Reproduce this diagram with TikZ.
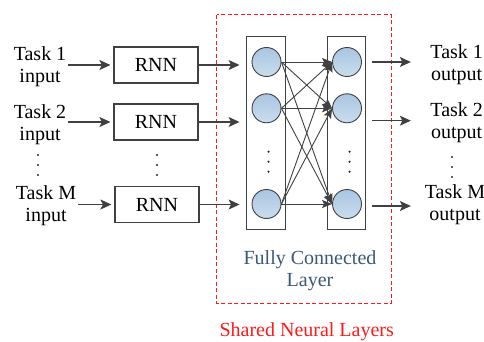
\documentclass[tikz,border=0pt]{standalone}
\usepackage{fontspec}
\setmainfont{Liberation Serif}
\usetikzlibrary{arrows.meta,calc}
\definecolor{linegray}{HTML}{404040}
\definecolor{neurontop}{HTML}{A9C5E1}
\definecolor{neuronbot}{HTML}{CADDEE}
\definecolor{fclabel}{HTML}{3A5878}
\definecolor{sharedred}{HTML}{FF1A1A}

\begin{document}
\begin{tikzpicture}[x=1pt,y=-1pt,
  font=\fontsize{20}{21.5}\selectfont,
  lbl/.style={align=center, inner sep=0pt},
  rnnbox/.style={draw=linegray, line width=1.2pt, minimum width=84pt,
                 minimum height=36pt, inner sep=0pt},
  column/.style={draw=linegray, line width=1.2pt, minimum width=38.5pt,
                 minimum height=192.5pt, inner sep=0pt},
  neuron/.style={circle, draw=linegray, line width=0.9pt,
                 top color=neurontop, bottom color=neuronbot,
                 minimum size=29pt, inner sep=0pt},
  arr/.style={draw=linegray, line width=1.2pt,
              -{Stealth[length=11pt,width=10pt,inset=2.5pt]}},
  link/.style={draw=linegray, line width=0.9pt,
               -{Stealth[length=10pt,width=8pt,inset=2pt]}},
  vdot/.style={fill=black!85},
]
\useasboundingbox (0,0) rectangle (484,342);

% shared part: dashed frame and captions
\draw[sharedred, line width=1pt, dash pattern=on 4pt off 2.5pt]
  (216.5,15) rectangle (391,303);
\node[lbl, text=fclabel] (fc) at (310,270.8) {Fully Connected\\Layer};
\node[lbl, text=sharedred] (shared) at (306.7,331.7) {Shared Neural Layers};

% task inputs
\node[lbl] (t1) at (40,66.9)  {Task 1\\input};
\node[lbl] (t2) at (40,124.9) {Task 2\\input};
\node[lbl] (tm) at (46,205.9) {Task M\\input};
\foreach \y in {155,165,175} \fill[vdot] (38,\y) circle (1.2);

% recurrent encoders
\node[rnnbox] (r1) at (156,65)    {RNN};
\node[rnnbox] (r2) at (156,122)   {RNN};
\node[rnnbox] (rm) at (157,204.5) {RNN};
\foreach \y in {155,165,175} \fill[vdot] (157,\y) circle (1.2);

% fully connected layers
\node[column] (colL) at (265.9,132.9) {};
\node[column] (colR) at (346.5,132.9) {};
\node[neuron] (a1) at (266.5,62)    {};
\node[neuron] (a2) at (266.5,108.3) {};
\node[neuron] (am) at (266.5,204)   {};
\node[neuron] (b1) at (347,62)      {};
\node[neuron] (b2) at (347,108.3)   {};
\node[neuron] (bm) at (347,204)     {};
\foreach \y in {151.7,161.7,171.7} {
  \fill[vdot] (268.5,\y) circle (1.2);
  \fill[vdot] (349.5,\y) circle (1.2);
}

% task outputs
\node[lbl] (o1) at (456.7,64.5)  {Task 1\\output};
\node[lbl] (o2) at (456.7,122.9) {Task 2\\output};
\node[lbl] (om) at (455,204.5)   {Task M\\output};
\foreach \y in {157,167,177} \fill[vdot] (452,\y) circle (1.2);

% connectors
\foreach \t/\r in {t1/r1,t2/r2,tm/rm}
  \draw[arr, shorten <=2pt, shorten >=3pt] (\t.east |- \r) -- (\r.west);
\foreach \r in {r1,r2,rm}
  \draw[arr, shorten >=6.5pt] (\r.east) -- (colL.west |- \r);
\foreach \a in {a1,a2,am}
  \foreach \b in {b1,b2,bm}
    \draw[link] (\a.east) -- (\b.west);
\foreach \o/\dy in {o1/-2.5,o2/-2.2,om/1.5}
  \draw[arr] ([shift={(6,\dy)}]colR.east |- \o) -- ([shift={(44.5,\dy)}]colR.east |- \o);
\end{tikzpicture}
\end{document}
